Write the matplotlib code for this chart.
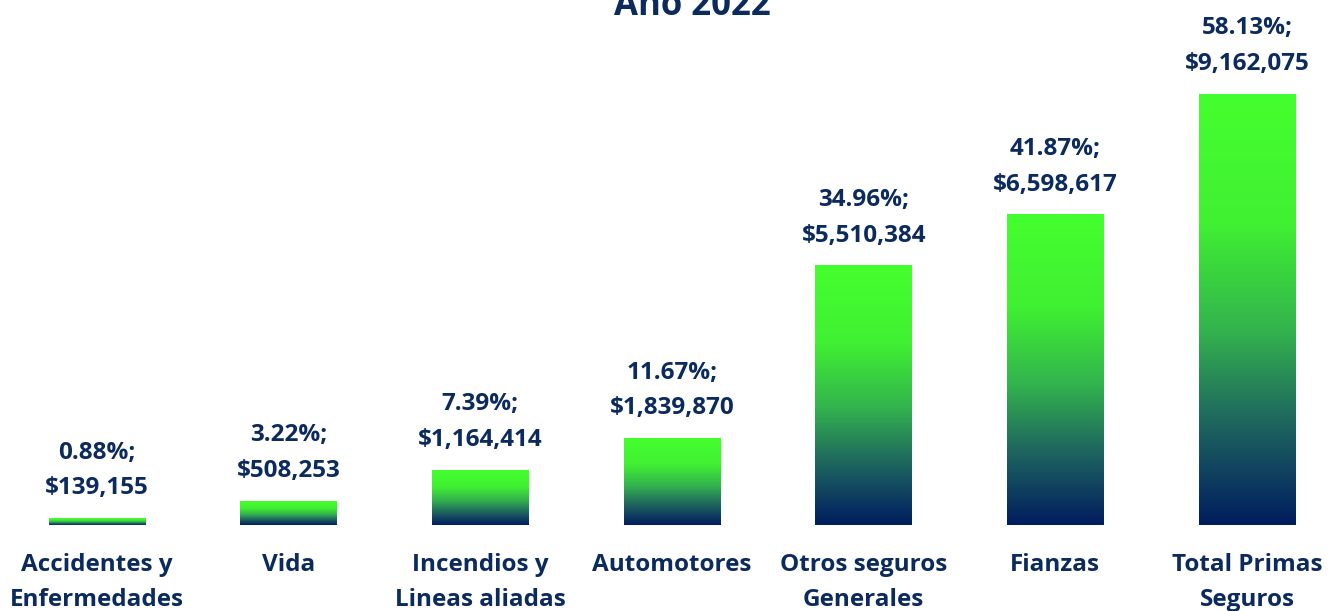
import numpy as np
import matplotlib
matplotlib.use("Agg")
import matplotlib.pyplot as plt
from matplotlib.colors import LinearSegmentedColormap

# datos
categorias = ["Accidentes y\nEnfermedades", "Vida", "Incendios y\nLineas aliadas",
              "Automotores", "Otros seguros\nGenerales", "Fianzas", "Total Primas\nSeguros"]
porcentajes = ["0.88%", "3.22%", "7.39%", "11.67%", "34.96%", "41.87%", "58.13%"]
primas = [139155, 508253, 1164414, 1839870, 5510384, 6598617, 9162075]
titulo = "Año 2022"

azul = "#0B2A5E"
plt.rcParams["font.family"] = ["Open Sans", "DejaVu Sans"]

# degradado verde (arriba) -> azul marino (abajo)
cmap = LinearSegmentedColormap.from_list("grad", [
    (0.0, "#44FF2E"), (0.3, "#40F032"), (0.55, "#33B24E"),
    (0.75, "#1F6A5E"), (0.9, "#0E3B60"), (1.0, "#001D5E")])
grad = np.linspace(0, 1, 256).reshape(-1, 1)

fig = plt.figure(figsize=(13.36, 6.11), dpi=100)
ax = fig.add_axes([0, 0, 1, 1])

x = np.arange(len(categorias))
ancho = 0.506
barras = ax.bar(x, primas, width=ancho, color="none", edgecolor="none")
for b in barras:
    x0, y0 = b.get_x(), b.get_y()
    ax.imshow(grad, cmap=cmap, aspect="auto", interpolation="bicubic",
              extent=(x0, x0 + b.get_width(), y0, y0 + b.get_height()), zorder=2)

for xi, p, v in zip(x, porcentajes, primas):
    ax.annotate(f"{p};\n${v:,.0f}", (xi, v), xytext=(0, 13), textcoords="offset points",
                ha="center", va="bottom", fontsize=17.5, fontweight="bold", color=azul,
                linespacing=1.65)

for xi, c in zip(x, categorias):
    ax.annotate(c, (xi, 0), xytext=(0, -20), textcoords="offset points",
                ha="center", va="top", fontsize=17.5, fontweight="bold", color=azul,
                linespacing=1.65)

# escala: base en y=525 px, total (9,162,075) llega a y=94 px
esc = primas[-1] / 431
ax.set_ylim(-86 * esc, 525 * esc)
ax.set_xlim((0 - 97) / 191.67, (1336 - 97) / 191.67)
ax.axis("off")

fig.text(0.518, 1 - 15 / 611, titulo, ha="center", va="baseline",
         fontsize=25, fontweight="bold", color=azul)

fig.savefig("out.png", dpi=100)
